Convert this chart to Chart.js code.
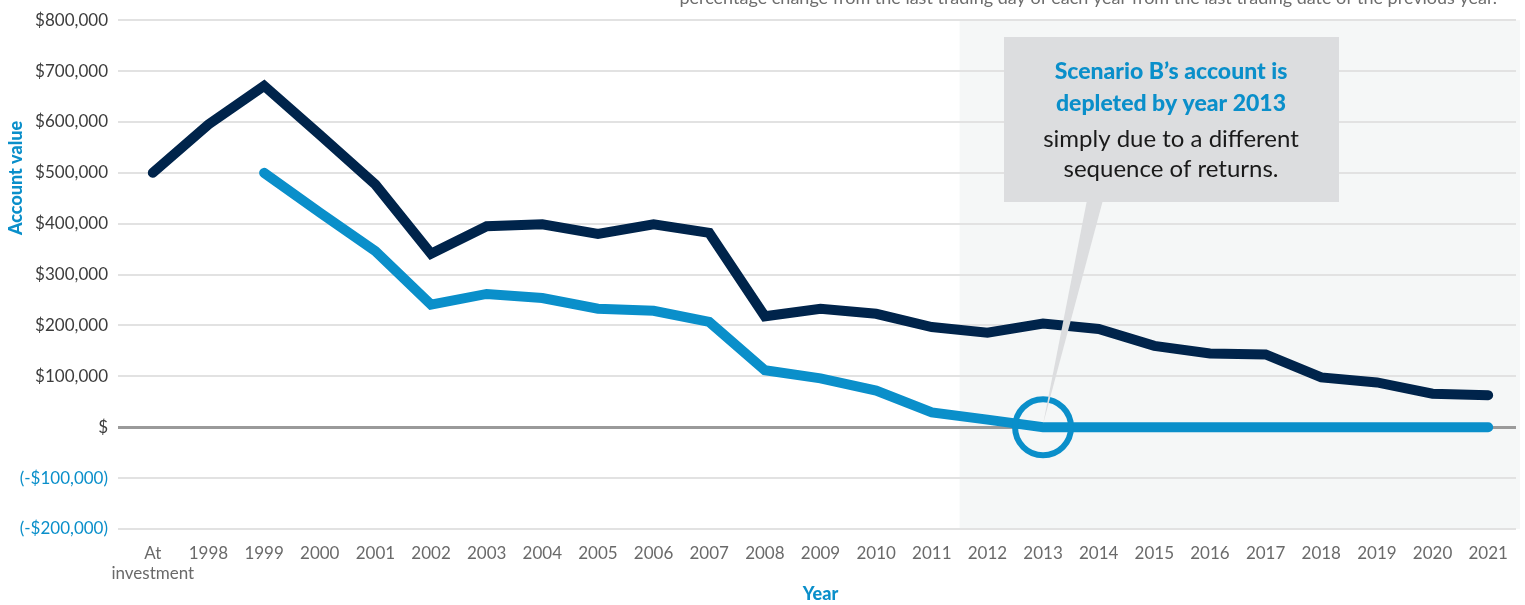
<!DOCTYPE html>
<html>
<head>
<meta charset="utf-8">
<script src="https://cdn.jsdelivr.net/npm/chart.js@4.4.0/dist/chart.umd.min.js"></script>
<style>
  html, body { margin: 0; padding: 0; background: #fff; }
  #wrap { width: 1525px; height: 605px; }
</style>
</head>
<body>
<div id="wrap"><canvas id="chart" width="1525" height="605"></canvas></div>
<script>
// Categories along the x axis
const yearLabels = [['At', 'investment'], '1998', '1999', '2000', '2001', '2002', '2003', '2004',
    '2005', '2006', '2007', '2008', '2009', '2010', '2011', '2012', '2013', '2014', '2015',
    '2016', '2017', '2018', '2019', '2020', '2021'];

// Scenario A (dark line)
const scenarioA = [500000, 595000, 671000, 575000, 477000, 341000, 395000, 399000, 380000,
    399000, 382000, 218000, 233000, 223000, 197000, 186000, 204000, 193000, 160000,
    145000, 143000, 98000, 88000, 66000, 63000];

// Scenario B (light blue line), starts in 1999 and runs out in 2013
const scenarioB = [null, null, 500000, 422000, 346000, 241000, 262000, 254000, 233000,
    229000, 207000, 112000, 96000, 72000, 29000, 15000, 0, 0, 0, 0, 0, 0, 0, 0, 0];

// y axis range
const yMin = -200000;
const yMax = 800000;
const yStep = 100000;

// shaded area starts between 2011 and 2012, circle sits on 2013
const shadeStartIndex = 14.5;
const depletedIndex = 16;

const calloutBold = ['Scenario B\u2019s account is', 'depleted by year 2013'];
const calloutText = ['simply due to a different', 'sequence of returns.'];
const topNote = 'percentage change from the last trading day of each year from the last trading date of the previous year.';

const NAVY = '#00244b';
const BLUE = '#0a8fca';
const FONT = 'Lato, "Open Sans", sans-serif';

function money(v) {
    if (v === 0) return '$';
    const s = '$' + Math.abs(v).toLocaleString('en-US');
    return v < 0 ? '(-' + s + ')' : s;
}

const shadePlugin = {
    id: 'shade',
    beforeDraw(chart) {
        const { ctx, chartArea, scales } = chart;
        const left = scales.x.getPixelForValue(shadeStartIndex);
        ctx.save();
        ctx.fillStyle = '#f5f7f7';
        ctx.fillRect(left, chartArea.top, chartArea.right + 4 - left, chartArea.bottom - chartArea.top);
        ctx.restore();
    }
};

const calloutPlugin = {
    id: 'callout',
    afterDatasetsDraw(chart) {
        const { ctx, scales } = chart;
        const cx = scales.x.getPixelForValue(depletedIndex);
        const cy = scales.y.getPixelForValue(0);

        ctx.save();
        // ring around the depletion point
        ctx.strokeStyle = BLUE;
        ctx.lineWidth = 6;
        ctx.beginPath();
        ctx.arc(cx, cy, 28, 0, Math.PI * 2);
        ctx.stroke();

        // box and its pointer
        ctx.fillStyle = '#dcdddf';
        ctx.beginPath();
        ctx.moveTo(1087, 200);
        ctx.lineTo(1103, 200);
        ctx.lineTo(cx, cy - 3);
        ctx.closePath();
        ctx.fill();
        ctx.fillRect(1004, 37, 335, 165);

        ctx.textAlign = 'center';
        ctx.textBaseline = 'middle';
        ctx.fillStyle = BLUE;
        ctx.font = '900 23px ' + FONT;
        ctx.fillText(calloutBold[0], 1171, 72);
        ctx.fillText(calloutBold[1], 1171, 104);
        ctx.fillStyle = '#1a1a1a';
        ctx.font = '24px ' + FONT;
        ctx.fillText(calloutText[0], 1171, 139);
        ctx.fillText(calloutText[1], 1171, 169);
        ctx.restore();
    },
    afterDraw(chart) {
        const { ctx } = chart;
        ctx.save();
        // y axis title
        ctx.translate(16, 178);
        ctx.rotate(-Math.PI / 2);
        ctx.textAlign = 'center';
        ctx.textBaseline = 'middle';
        ctx.fillStyle = BLUE;
        ctx.font = '900 18px ' + FONT;
        ctx.fillText('Account value', 0, 0);
        ctx.restore();

        // note cut off at the top of the picture
        ctx.save();
        ctx.textAlign = 'right';
        ctx.textBaseline = 'alphabetic';
        ctx.fillStyle = '#6d6d6d';
        ctx.font = '18px ' + FONT;
        ctx.fillText(topNote, 1497, 4);
        ctx.restore();
    }
};

new Chart(document.getElementById('chart'), {
    type: 'line',
    data: {
        labels: yearLabels,
        datasets: [
            {
                label: 'Scenario B',
                data: scenarioB,
                borderColor: BLUE,
                borderWidth: 10,
                borderCapStyle: 'round',
                borderJoinStyle: 'miter',
                pointRadius: 0,
                tension: 0,
                order: 2
            },
            {
                label: 'Scenario A',
                data: scenarioA,
                borderColor: NAVY,
                borderWidth: 10,
                borderCapStyle: 'round',
                borderJoinStyle: 'miter',
                pointRadius: 0,
                tension: 0,
                order: 1
            }
        ]
    },
    options: {
        responsive: false,
        animation: false,
        layout: { padding: { top: 18, right: 9, left: 0, bottom: 0 } },
        plugins: {
            legend: { display: false },
            tooltip: { enabled: false }
        },
        scales: {
            x: {
                offset: true,
                grid: { display: false, drawTicks: false },
                border: { display: false },
                afterFit(scale) { scale.height = 76; },
                ticks: {
                    autoSkip: false,
                    maxRotation: 0,
                    padding: 14,
                    color: '#6a6a6a',
                    font: { family: FONT, size: 17 },
                    lineHeight: 1.4
                },
                title: {
                    display: true,
                    text: 'Year',
                    color: BLUE,
                    font: { family: FONT, size: 18, weight: '900' },
                    padding: { top: 0, bottom: 0 }
                }
            },
            y: {
                min: yMin,
                max: yMax,
                afterFit(scale) { scale.width = 125; },
                border: { display: false },
                grid: {
                    color: ctx => ctx.tick && ctx.tick.value === 0 ? '#9a9a9a' : '#e2e2e2',
                    lineWidth: ctx => ctx.tick && ctx.tick.value === 0 ? 3 : 2,
                    tickLength: 7
                },
                ticks: {
                    stepSize: yStep,
                    padding: 10,
                    color: ctx => ctx.tick && ctx.tick.value < 0 ? BLUE : '#3c3c3c',
                    font: { family: FONT, size: 17 },
                    callback: v => money(v)
                }
            }
        }
    },
    plugins: [shadePlugin, calloutPlugin]
});
</script>
</body>
</html>
